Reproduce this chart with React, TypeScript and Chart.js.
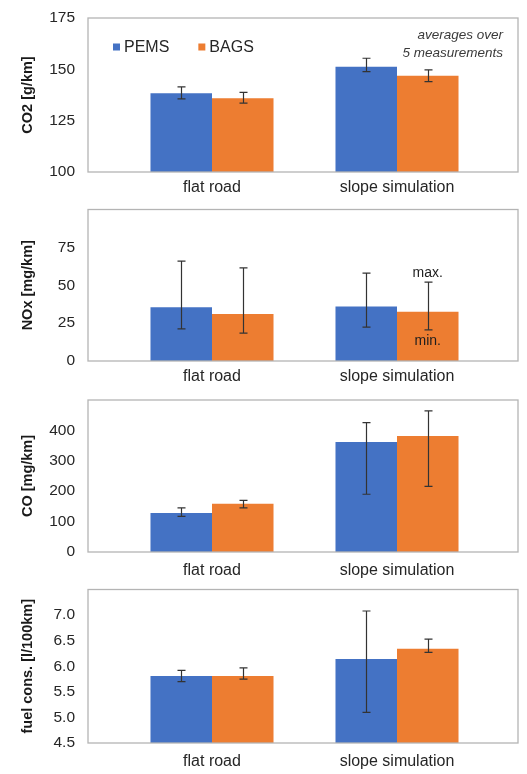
import React, { useEffect, useRef } from 'react';
import { Chart, registerables } from 'chart.js';

Chart.register(...registerables);

// ---------- data ----------
const categories = ['flat road', 'slope simulation'];
const seriesNames = ['PEMS', 'BAGS'];
const seriesColors = ['#4472C4', '#ED7D31'];
const noteLines = ['averages over', '5 measurements'];
const rangeLabels = ['max.', 'min.'];

// CO2 [g/km]
const co2Pems = [138.3, 151.3];
const co2Bags = [135.9, 146.9];
const co2PemsMin = [135.6, 148.9];
const co2PemsMax = [141.5, 155.4];
const co2BagsMin = [133.5, 144.0];
const co2BagsMax = [138.8, 149.7];
const co2Range = [100, 175];
const co2Ticks = [100, 125, 150, 175];

// NOx [mg/km]
const noxPems = [35.4, 36.0];
const noxBags = [31.0, 32.5];
const noxPemsMin = [21.2, 22.4];
const noxPemsMax = [65.9, 58.0];
const noxBagsMin = [18.4, 20.6];
const noxBagsMax = [61.5, 52.0];
const noxRange = [0, 100];
const noxTicks = [0, 25, 50, 75];

// CO [mg/km]
const coPems = [128, 362];
const coBags = [159, 381.5];
const coPemsMin = [117, 190];
const coPemsMax = [145, 425.6];
const coBagsMin = [145, 216];
const coBagsMax = [170, 464];
const coRange = [0, 500];
const coTicks = [0, 100, 200, 300, 400];

// fuel cons. [l/100km]
const fuelPems = [5.81, 6.14];
const fuelBags = [5.81, 6.34];
const fuelPemsMin = [5.70, 5.10];
const fuelPemsMax = [5.92, 7.08];
const fuelBagsMin = [5.75, 6.27];
const fuelBagsMax = [5.97, 6.53];
const fuelRange = [4.5, 7.5];
const fuelTicks = [4.5, 5.0, 5.5, 6.0, 6.5, 7.0];

// ---------- styling ----------
const FONT = '"Liberation Sans", Arial, Helvetica, sans-serif';
const TEXT = '#262626';
const AXIS_W = 119.5;
const PAD_RIGHT = 37.5;
const BOX_EXT_L = 31.5;
const BOX_EXT_R = 28.5;

const boxPlugin = {
  id: 'plotBox',
  afterDraw(chart: any) {
    const { ctx, chartArea } = chart;
    ctx.save();
    ctx.strokeStyle = '#b4b4b4';
    ctx.lineWidth = 1.3;
    const l = chartArea.left - BOX_EXT_L;
    const r = chartArea.right + BOX_EXT_R;
    ctx.strokeRect(l, chartArea.top, r - l, chartArea.bottom - chartArea.top);
    ctx.restore();
  },
};

const errorPlugin = {
  id: 'errorBars',
  afterDatasetsDraw(chart: any) {
    const { ctx } = chart;
    const yScale = chart.scales.y;
    ctx.save();
    ctx.strokeStyle = '#333333';
    ctx.lineWidth = 1.2;
    chart.data.datasets.forEach((ds: any, i: number) => {
      const meta = chart.getDatasetMeta(i);
      meta.data.forEach((el: any, j: number) => {
        const x = Math.round(el.x) + 0.5;
        const y1 = yScale.getPixelForValue(ds.errMin[j]);
        const y2 = yScale.getPixelForValue(ds.errMax[j]);
        ctx.beginPath();
        ctx.moveTo(x, y1);
        ctx.lineTo(x, y2);
        ctx.moveTo(x - 4, y1);
        ctx.lineTo(x + 4, y1);
        ctx.moveTo(x - 4, y2);
        ctx.lineTo(x + 4, y2);
        ctx.stroke();
      });
    });
    ctx.restore();
  },
};

const legendPlugin = {
  id: 'innerLegend',
  afterDraw(chart: any) {
    const { ctx, chartArea } = chart;
    ctx.save();
    ctx.font = `16px ${FONT}`;
    ctx.textBaseline = 'middle';
    ctx.textAlign = 'left';
    let x = chartArea.left - BOX_EXT_L + 25;
    const y = chartArea.top + 29;
    chart.data.datasets.forEach((ds: any) => {
      ctx.fillStyle = ds.backgroundColor;
      ctx.fillRect(x, y - 3.5, 7, 7);
      ctx.fillStyle = TEXT;
      ctx.fillText(ds.label, x + 11, y + 0.5);
      x += 11 + ctx.measureText(ds.label).width + 29;
    });
    // note
    ctx.font = `italic 13.5px ${FONT}`;
    ctx.textAlign = 'right';
    ctx.fillStyle = '#3a3a3a';
    const rx = chartArea.right + BOX_EXT_R - 15;
    noteLines.forEach((t, k) => ctx.fillText(t, rx, chartArea.top + 17 + k * 18));
    ctx.restore();
  },
};

const rangeLabelPlugin = {
  id: 'rangeLabels',
  afterDatasetsDraw(chart: any) {
    const { ctx } = chart;
    const yScale = chart.scales.y;
    const ds = chart.data.datasets[1];
    const el = chart.getDatasetMeta(1).data[1];
    ctx.save();
    ctx.font = `14px ${FONT}`;
    ctx.textAlign = 'center';
    ctx.textBaseline = 'middle';
    ctx.fillStyle = '#1e1e1e';
    ctx.fillText(rangeLabels[0], el.x, yScale.getPixelForValue(ds.errMax[1]) - 9);
    ctx.fillText(rangeLabels[1], el.x, yScale.getPixelForValue(ds.errMin[1]) + 11);
    ctx.restore();
  },
};

type PanelProps = {
  top: number;
  height: number;
  padTop: number;
  labelPad: number;
  title: string;
  pems: number[];
  bags: number[];
  pemsMin: number[];
  pemsMax: number[];
  bagsMin: number[];
  bagsMax: number[];
  range: number[];
  ticks: number[];
  decimals: number;
  extras: any[];
};

function Panel(p: PanelProps) {
  const ref = useRef<HTMLCanvasElement | null>(null);
  useEffect(() => {
    if (!ref.current) return;
    const chart = new Chart(ref.current, {
      type: 'bar',
      data: {
        labels: categories,
        datasets: [
          {
            label: seriesNames[0],
            data: p.pems,
            backgroundColor: seriesColors[0],
            borderWidth: 0,
            categoryPercentage: 0.665,
            barPercentage: 1.0,
            errMin: p.pemsMin,
            errMax: p.pemsMax,
          } as any,
          {
            label: seriesNames[1],
            data: p.bags,
            backgroundColor: seriesColors[1],
            borderWidth: 0,
            categoryPercentage: 0.665,
            barPercentage: 1.0,
            errMin: p.bagsMin,
            errMax: p.bagsMax,
          } as any,
        ],
      },
      options: {
        responsive: false,
        animation: false,
        devicePixelRatio: 1,
        layout: { padding: { top: p.padTop, left: 0, right: PAD_RIGHT, bottom: 0 } },
        plugins: { legend: { display: false }, tooltip: { enabled: false } },
        scales: {
          x: {
            grid: { display: false, drawTicks: false },
            border: { display: false },
            ticks: { font: { family: FONT, size: 16 }, color: TEXT, padding: p.labelPad, maxRotation: 0 },
            afterFit: (s: any) => {
              s.height = 30;
            },
          },
          y: {
            min: p.range[0],
            max: p.range[1],
            grid: { display: false, drawTicks: false },
            border: { display: false },
            ticks: {
              font: { family: FONT, size: 15.5 },
              color: TEXT,
              padding: 44.5,
              callback: (v: any) => Number(v).toFixed(p.decimals),
            },
            afterBuildTicks: (s: any) => {
              s.ticks = p.ticks.map((v) => ({ value: v }));
            },
            afterFit: (s: any) => {
              s.width = AXIS_W;
              s.paddingTop = 9;
              s.paddingBottom = 9;
            },
            title: {
              display: true,
              text: p.title,
              color: '#1a1a1a',
              font: { family: FONT, size: 14.5, weight: 'bold' },
              padding: { top: 19, bottom: 0 },
            },
          },
        },
      } as any,
      plugins: [boxPlugin, errorPlugin, ...p.extras],
    });
    return () => chart.destroy();
  }, []);
  return (
    <div style={{ position: 'absolute', left: 0, top: p.top, width: 527, height: p.height }}>
      <canvas ref={ref} width={527} height={p.height} style={{ width: 527, height: p.height, display: 'block' }} />
    </div>
  );
}

export default function App() {
  return (
    <div style={{ position: 'fixed', left: 0, top: 0, width: 527, height: 774, background: '#fff', overflow: 'hidden' }}>
      <Panel
        top={0}
        height={202}
        padTop={18}
        labelPad={6}
        title="CO2 [g/km]"
        pems={co2Pems}
        bags={co2Bags}
        pemsMin={co2PemsMin}
        pemsMax={co2PemsMax}
        bagsMin={co2BagsMin}
        bagsMax={co2BagsMax}
        range={co2Range}
        ticks={co2Ticks}
        decimals={0}
        extras={[legendPlugin]}
      />
      <Panel
        top={190}
        height={201}
        padTop={19.5}
        labelPad={6}
        title="NOx [mg/km]"
        pems={noxPems}
        bags={noxBags}
        pemsMin={noxPemsMin}
        pemsMax={noxPemsMax}
        bagsMin={noxBagsMin}
        bagsMax={noxBagsMax}
        range={noxRange}
        ticks={noxTicks}
        decimals={0}
        extras={[rangeLabelPlugin]}
      />
      <Panel
        top={380}
        height={202}
        padTop={20}
        labelPad={9}
        title="CO [mg/km]"
        pems={coPems}
        bags={coBags}
        pemsMin={coPemsMin}
        pemsMax={coPemsMax}
        bagsMin={coBagsMin}
        bagsMax={coBagsMax}
        range={coRange}
        ticks={coTicks}
        decimals={0}
        extras={[]}
      />
      <Panel
        top={570}
        height={203}
        padTop={19.5}
        labelPad={9}
        title="fuel cons. [l/100km]"
        pems={fuelPems}
        bags={fuelBags}
        pemsMin={fuelPemsMin}
        pemsMax={fuelPemsMax}
        bagsMin={fuelBagsMin}
        bagsMax={fuelBagsMax}
        range={fuelRange}
        ticks={fuelTicks}
        decimals={1}
        extras={[]}
      />
    </div>
  );
}
